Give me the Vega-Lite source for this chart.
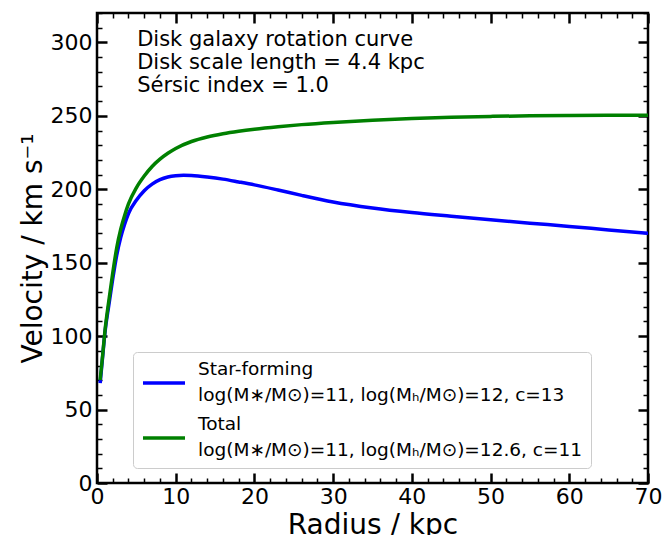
{
  "$schema": "https://vega.github.io/schema/vega-lite/v6.json",
  "width": 551,
  "height": 470,
  "autosize": {"type": "none"},
  "padding": {"left": 97, "top": 13, "right": 16, "bottom": 52},
  "config": {
    "font": "DejaVu Sans",
    "view": {"stroke": "black", "strokeWidth": 2.5},
    "axis": {
      "domain": false,
      "grid": false,
      "labelColor": "black",
      "labelFontSize": 22,
      "labelFont": "DejaVu Sans",
      "tickColor": "black",
      "titleColor": "black",
      "titleFont": "DejaVu Sans",
      "titleFontSize": 28,
      "titleFontWeight": "normal",
      "labelFlush": false,
      "labelOverlap": false
    },
    "style": {"guide-label": {"lineHeight": 26}}
  },
  "datasets": {
    "curves": [
      {"r": 0.4, "v": 68, "model": "Star-forming"},
      {"r": 0.7, "v": 85, "model": "Star-forming"},
      {"r": 1.0, "v": 102, "model": "Star-forming"},
      {"r": 1.5, "v": 121, "model": "Star-forming"},
      {"r": 2.0, "v": 139, "model": "Star-forming"},
      {"r": 2.5, "v": 155, "model": "Star-forming"},
      {"r": 3.0, "v": 167, "model": "Star-forming"},
      {"r": 3.5, "v": 176, "model": "Star-forming"},
      {"r": 4.0, "v": 183.5, "model": "Star-forming"},
      {"r": 5.0, "v": 192.5, "model": "Star-forming"},
      {"r": 6.0, "v": 199, "model": "Star-forming"},
      {"r": 7.0, "v": 203.5, "model": "Star-forming"},
      {"r": 8.0, "v": 206.5, "model": "Star-forming"},
      {"r": 9.0, "v": 208.3, "model": "Star-forming"},
      {"r": 10.0, "v": 209.2, "model": "Star-forming"},
      {"r": 11.0, "v": 209.5, "model": "Star-forming"},
      {"r": 12.0, "v": 209.3, "model": "Star-forming"},
      {"r": 14.0, "v": 208.3, "model": "Star-forming"},
      {"r": 16.0, "v": 206.9, "model": "Star-forming"},
      {"r": 18.0, "v": 205.0, "model": "Star-forming"},
      {"r": 20.0, "v": 203.0, "model": "Star-forming"},
      {"r": 23.0, "v": 199.5, "model": "Star-forming"},
      {"r": 26.0, "v": 195.8, "model": "Star-forming"},
      {"r": 30.0, "v": 191.3, "model": "Star-forming"},
      {"r": 35.0, "v": 187.2, "model": "Star-forming"},
      {"r": 40.0, "v": 184.1, "model": "Star-forming"},
      {"r": 45.0, "v": 181.6, "model": "Star-forming"},
      {"r": 50.0, "v": 179.2, "model": "Star-forming"},
      {"r": 55.0, "v": 176.9, "model": "Star-forming"},
      {"r": 60.0, "v": 174.7, "model": "Star-forming"},
      {"r": 65.0, "v": 172.3, "model": "Star-forming"},
      {"r": 70.0, "v": 170.0, "model": "Star-forming"},
      {"r": 0.4, "v": 70, "model": "Total"},
      {"r": 0.7, "v": 86, "model": "Total"},
      {"r": 1.0, "v": 103, "model": "Total"},
      {"r": 1.5, "v": 124, "model": "Total"},
      {"r": 2.0, "v": 143, "model": "Total"},
      {"r": 2.5, "v": 160, "model": "Total"},
      {"r": 3.0, "v": 172.5, "model": "Total"},
      {"r": 3.5, "v": 182, "model": "Total"},
      {"r": 4.0, "v": 190, "model": "Total"},
      {"r": 5.0, "v": 201, "model": "Total"},
      {"r": 6.0, "v": 209, "model": "Total"},
      {"r": 7.0, "v": 215.5, "model": "Total"},
      {"r": 8.0, "v": 220.5, "model": "Total"},
      {"r": 9.0, "v": 224.5, "model": "Total"},
      {"r": 10.0, "v": 227.8, "model": "Total"},
      {"r": 12.0, "v": 232.5, "model": "Total"},
      {"r": 14.0, "v": 235.6, "model": "Total"},
      {"r": 16.0, "v": 237.8, "model": "Total"},
      {"r": 18.0, "v": 239.5, "model": "Total"},
      {"r": 20.0, "v": 240.9, "model": "Total"},
      {"r": 23.0, "v": 242.6, "model": "Total"},
      {"r": 26.0, "v": 244.0, "model": "Total"},
      {"r": 30.0, "v": 245.5, "model": "Total"},
      {"r": 35.0, "v": 247.0, "model": "Total"},
      {"r": 40.0, "v": 248.1, "model": "Total"},
      {"r": 45.0, "v": 249.0, "model": "Total"},
      {"r": 50.0, "v": 249.6, "model": "Total"},
      {"r": 55.0, "v": 250.0, "model": "Total"},
      {"r": 60.0, "v": 250.2, "model": "Total"},
      {"r": 65.0, "v": 250.3, "model": "Total"},
      {"r": 70.0, "v": 250.3, "model": "Total"}
    ],
    "notes": [
      {"r": 5.1, "v": 301.5, "label": "Disk galaxy rotation curve"},
      {"r": 5.1, "v": 286.0, "label": "Disk scale length = 4.4 kpc"},
      {"r": 5.1, "v": 270.5, "label": "Sérsic index = 1.0"}
    ]
  },
  "layer": [
    {
      "data": {"name": "curves"},
      "mark": {"type": "line", "strokeWidth": 3.5, "interpolate": "monotone", "clip": true},
      "encoding": {
        "x": {
          "field": "r", "type": "quantitative",
          "scale": {"domain": [0, 70], "nice": false, "zero": false},
          "axis": {
            "orient": "bottom",
            "title": "Radius / kpc",
            "values": [0,2,4,6,8,10,12,14,16,18,20,22,24,26,28,30,32,34,36,38,40,42,44,46,48,50,52,54,56,58,60,62,64,66,68,70],
            "labelExpr": "datum.value % 10 === 0 ? datum.label : ''",
            "tickSize": {"condition": {"test": "datum.value % 10 === 0", "value": -10}, "value": -5},
            "tickWidth": {"condition": {"test": "datum.value % 10 === 0", "value": 2.5}, "value": 1.5},
            "labelBaseline": "top",
            "labelAlign": "center",
            "labelPadding": 13,
            "titlePadding": -1
          }
        },
        "y": {
          "field": "v", "type": "quantitative",
          "scale": {"domain": [0, 320], "nice": false, "zero": false},
          "axis": {
            "orient": "left",
            "title": "Velocity / km s⁻¹",
            "values": [0,10,20,30,40,50,60,70,80,90,100,110,120,130,140,150,160,170,180,190,200,210,220,230,240,250,260,270,280,290,300,310,320],
            "labelExpr": "datum.value % 50 === 0 ? datum.label : ''",
            "tickSize": {"condition": {"test": "datum.value % 50 === 0", "value": -10}, "value": -5},
            "tickWidth": {"condition": {"test": "datum.value % 50 === 0", "value": 2.5}, "value": 1.5},
            "labelAlign": "right",
            "labelBaseline": "middle",
            "labelPadding": 15,
            "titlePadding": 3
          }
        },
        "color": {
          "field": "model", "type": "nominal",
          "scale": {"domain": ["Star-forming", "Total"], "range": ["#0000ff", "#008000"]},
          "legend": {
            "orient": "none",
            "legendX": 36,
            "legendY": 339,
            "title": null,
            "symbolType": "stroke",
            "symbolSize": 1764,
            "symbolStrokeWidth": 3.5,
            "labelFontSize": 18.5,
            "labelColor": "black",
            "labelLimit": 600,
            "labelOffset": 11,
            "labelBaseline": "line-bottom",
            "padding": 8,
            "rowPadding": 10,
            "fillColor": "rgba(255,255,255,0.8)",
            "strokeColor": "#cccccc",
            "cornerRadius": 4,
            "labelExpr": "datum.label == 'Star-forming' ? ['Star-forming', 'log(M∗/M⊙)=11, log(Mₕ/M⊙)=12, c=13'] : ['Total', 'log(M∗/M⊙)=11, log(Mₕ/M⊙)=12.6, c=11']"
          }
        }
      }
    },
    {
      "data": {"name": "notes"},
      "mark": {"type": "text", "align": "left", "baseline": "middle", "fontSize": 21, "color": "black"},
      "encoding": {
        "x": {
          "field": "r", "type": "quantitative",
          "axis": {
            "orient": "top", "title": null, "labels": false,
            "values": [0,2,4,6,8,10,12,14,16,18,20,22,24,26,28,30,32,34,36,38,40,42,44,46,48,50,52,54,56,58,60,62,64,66,68,70],
            "tickSize": {"condition": {"test": "datum.value % 10 === 0", "value": -10}, "value": -5},
            "tickWidth": {"condition": {"test": "datum.value % 10 === 0", "value": 2.5}, "value": 1.5}
          }
        },
        "y": {
          "field": "v", "type": "quantitative",
          "axis": {
            "orient": "right", "title": null, "labels": false,
            "values": [0,10,20,30,40,50,60,70,80,90,100,110,120,130,140,150,160,170,180,190,200,210,220,230,240,250,260,270,280,290,300,310,320],
            "tickSize": {"condition": {"test": "datum.value % 50 === 0", "value": -10}, "value": -5},
            "tickWidth": {"condition": {"test": "datum.value % 50 === 0", "value": 2.5}, "value": 1.5}
          }
        },
        "text": {"field": "label"}
      }
    }
  ],
  "resolve": {"axis": {"x": "independent", "y": "independent"}}
}
